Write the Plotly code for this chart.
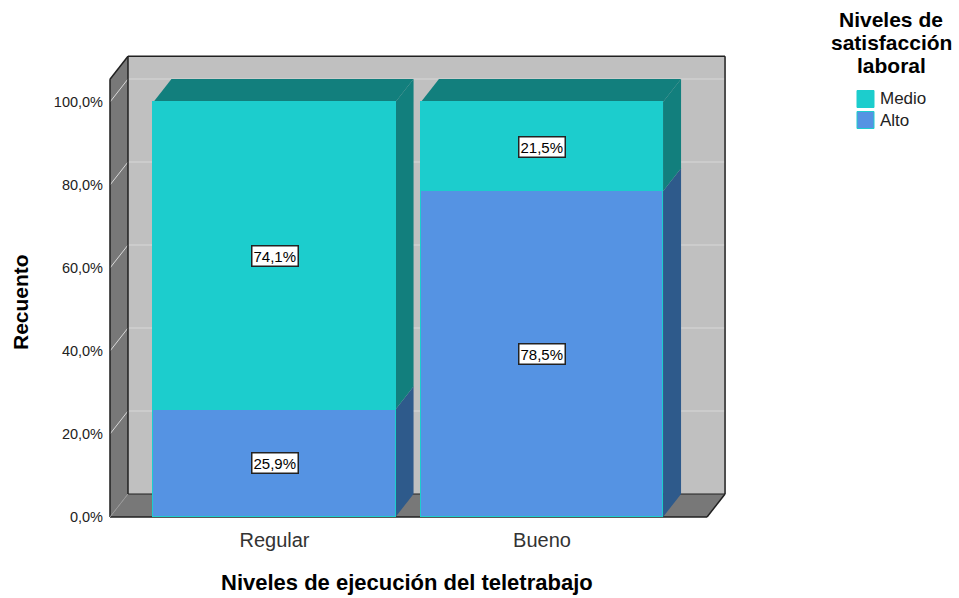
import plotly.graph_objects as go

# Data: percentage of each satisfaction level within each execution level
categories = ["Regular", "Bueno"]
alto = [25.9, 78.5]
medio = [74.1, 21.5]
y_ticks = [0, 20, 40, 60, 80, 100]
y_tick_labels = ["0,0%", "20,0%", "40,0%", "60,0%", "80,0%", "100,0%"]
legend_title_lines = ["Niveles de", "satisfacción", "laboral"]
x_title = "Niveles de ejecución del teletrabajo"
y_title = "Recuento"

series = [("Alto", alto), ("Medio", medio)]
front_colors = {"Alto": "#5593e3", "Medio": "#1ccdcd"}
side_colors = {"Alto": "#2e5a8b", "Medio": "#127f7d"}
top_color = "#127f7d"

FONT = "Liberation Sans, Arial, sans-serif"

# Pseudo-3D geometry (in axis units)
BAR_W = 0.905
DX = 0.0673
DY = 5.54
BOX_L = -0.615
BOX_R = 1.617
BOX_TOP = 105.5
WALL = "#c0c0c0"
SIDE_WALL = "#787878"
EDGE = "#202020"
GRID = "#d8d8d8"

xs = list(range(len(categories)))

fig = go.Figure()


def poly(points, fill, line_color=None, width=0):
    d = "M " + " L ".join(f"{x},{y}" for x, y in points) + " Z"
    return dict(type="path", path=d, xref="x", yref="y", fillcolor=fill,
                line=dict(color=line_color or fill, width=width), layer="below")


def seg(x0, y0, x1, y1, color, width=1):
    return dict(type="line", x0=x0, y0=y0, x1=x1, y1=y1, xref="x", yref="y",
                line=dict(color=color, width=width), layer="below")


shapes = []
# back wall
shapes.append(poly([(BOX_L + DX, DY), (BOX_R + DX, DY), (BOX_R + DX, BOX_TOP + DY),
                    (BOX_L + DX, BOX_TOP + DY)], WALL))
# left wall
shapes.append(poly([(BOX_L, 0), (BOX_L + DX, DY), (BOX_L + DX, BOX_TOP + DY),
                    (BOX_L, BOX_TOP)], SIDE_WALL))
# floor
shapes.append(poly([(BOX_L, 0), (BOX_R, 0), (BOX_R + DX, DY), (BOX_L + DX, DY)], SIDE_WALL))
# grid lines on back and left walls
for v in y_ticks[1:]:
    shapes.append(seg(BOX_L + DX, v + DY, BOX_R + DX, v + DY, GRID, 1))
    shapes.append(seg(BOX_L, v, BOX_L + DX, v + DY, GRID, 1))
# box edges
shapes.append(seg(BOX_L, 0, BOX_L, BOX_TOP, EDGE, 1.5))
shapes.append(seg(BOX_L, BOX_TOP, BOX_L + DX, BOX_TOP + DY, EDGE, 1.5))
shapes.append(seg(BOX_L + DX, BOX_TOP + DY, BOX_R + DX, BOX_TOP + DY, EDGE, 1.5))
shapes.append(seg(BOX_R + DX, BOX_TOP + DY, BOX_R + DX, DY, EDGE, 1.5))
shapes.append(seg(BOX_R + DX, DY, BOX_R, 0, EDGE, 1.5))
shapes.append(seg(BOX_R, 0, BOX_L, 0, EDGE, 1.5))
shapes.append(seg(BOX_L + DX, DY, BOX_L + DX, BOX_TOP + DY, EDGE, 1.5))
shapes.append(seg(BOX_L + DX, DY, BOX_R + DX, DY, EDGE, 1))
shapes.append(seg(BOX_L, 0, BOX_L + DX, DY, "#999999", 1))

annotations = []
for i, x in enumerate(xs):
    x0 = x - BAR_W / 2
    x1 = x + BAR_W / 2
    base = 0.0
    for name, vals in series:
        h = vals[i]
        # side face of this segment
        shapes.append(poly([(x1, base), (x1 + DX, base + DY), (x1 + DX, base + h + DY),
                            (x1, base + h)], side_colors[name]))
        annotations.append(dict(
            x=x, y=base + h / 2, xref="x", yref="y",
            text=f"{h:.1f}%".replace(".", ","), showarrow=False,
            font=dict(family=FONT, size=15, color="#000000"),
            bgcolor="#ffffff", bordercolor="#222222", borderwidth=1.5, borderpad=1))
        base += h
    # top face of the stack
    shapes.append(poly([(x0, base), (x1, base), (x1 + DX, base + DY), (x0 + DX, base + DY)],
                       top_color))

# stacked front faces
for name, vals in series:
    fig.add_trace(go.Bar(
        x=xs, y=vals, name=name, width=BAR_W, showlegend=False,
        marker=dict(color=front_colors[name], line=dict(color="#1ccdcd", width=1)),
    ))

W, H = 959, 598
L, R, T, B = 104, 728, 50, 522
PX_X = 267.5
CX0 = 274.5
PX_Y = 4.15
Y0 = 517


def px_x(p):
    return (p - L) / (R - L)


def px_y(p):
    return (B - p) / (B - T)


# axis titles and legend title, placed in paper coordinates
title_font = dict(family=FONT, size=21, color="#000000")
annotations.append(dict(x=px_x(407), y=px_y(582), xref="paper", yref="paper",
                        xanchor="center", yanchor="middle", text=f"<b>{x_title}</b>",
                        showarrow=False, font=dict(family=FONT, size=22, color="#000000")))
for k, line in enumerate(legend_title_lines):
    annotations.append(dict(x=px_x(891), y=px_y(20 + 22.5 * k), xref="paper", yref="paper",
                            xanchor="center", yanchor="middle", text=f"<b>{line}</b>",
                            showarrow=False, font=title_font))
annotations.append(dict(x=px_x(20), y=px_y(302), xref="paper", yref="paper",
                        xanchor="center", yanchor="middle", text=f"<b>{y_title}</b>",
                        textangle=-90, showarrow=False, font=title_font))

# legend: swatch + label per series, top entry first
SW = 17
for k, (name, _) in enumerate(reversed(series)):
    cy = 99 + 21 * k
    shapes.append(dict(type="rect", xref="paper", yref="paper",
                       x0=px_x(857), x1=px_x(857 + SW),
                       y0=px_y(cy + SW / 2), y1=px_y(cy - SW / 2),
                       fillcolor=front_colors[name],
                       line=dict(color="#1ccdcd", width=1)))
    annotations.append(dict(x=px_x(878), y=px_y(cy), xref="paper", yref="paper",
                            xanchor="left", yanchor="middle", text=name, showarrow=False,
                            font=dict(family=FONT, size=17, color="#222222")))

fig.update_layout(
    width=W, height=H,
    margin=dict(l=L, r=W - R, t=T, b=H - B),
    paper_bgcolor="#ffffff", plot_bgcolor="rgba(0,0,0,0)",
    barmode="stack", bargap=0,
    showlegend=False,
    shapes=shapes,
    annotations=annotations,
    xaxis=dict(range=[(L - CX0) / PX_X, (R - CX0) / PX_X], tickvals=xs, ticktext=categories,
               showgrid=False, zeroline=False, showline=False, ticks="",
               ticklabelstandoff=4,
               tickfont=dict(family=FONT, size=20, color="#333333")),
    yaxis=dict(range=[(Y0 - B) / PX_Y, (Y0 - T) / PX_Y], tickvals=y_ticks,
               ticktext=y_tick_labels, showgrid=False, zeroline=False,
               showline=False, ticks="",
               tickfont=dict(family=FONT, size=14.5, color="#222222")),
)

fig.write_html("out.html")
